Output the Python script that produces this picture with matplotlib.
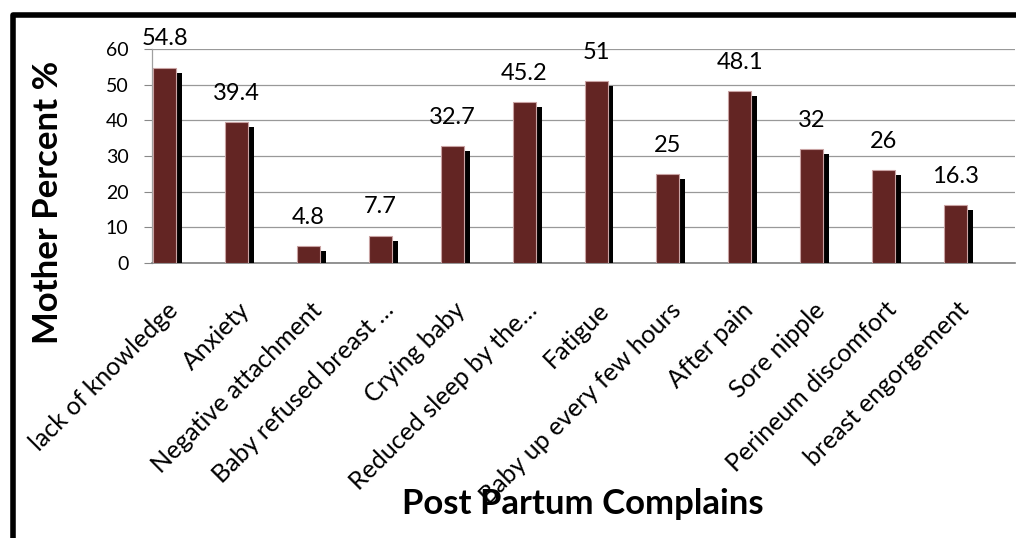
import matplotlib
matplotlib.use('Agg')
import matplotlib.pyplot as plt
import matplotlib.patheffects as pe
from matplotlib.patches import Rectangle

# Post partum complaints, percent of mothers
complains = ['lack of knowledge', 'Anxiety', 'Negative attachment',
             'Baby refused breast …', 'Crying baby', 'Reduced sleep by the…',
             'Fatigue', 'Baby up every few hours', 'After pain', 'Sore nipple',
             'Perineum discomfort', 'breast engorgement']
percent = [54.8, 39.4, 4.8, 7.7, 32.7, 45.2, 51, 25, 48.1, 32, 26, 16.3]
y_ticks = [0, 10, 20, 30, 40, 50, 60]

W, H = 1016, 538
fig = plt.figure(figsize=(W / 100, H / 100), dpi=100)
plt.rcParams['font.family'] = ['Lato', 'DejaVu Sans']

ax = fig.add_axes([152 / W, (H - 263) / H, 863 / W, 214 / H])

bar_w = 0.32
x = [i + 0.014 for i in range(len(percent))]
shadow = [pe.SimplePatchShadow(offset=(4.3, -3.6), shadow_rgbFace='black',
                               alpha=1.0), pe.Normal()]
bars = ax.bar(x, percent, width=bar_w, align='edge', color='#632523',
              edgecolor='#c9a3a3', linewidth=0.8, zorder=3)
for b in bars:
    b.set_path_effects(shadow)

# value labels above each bar
for xi, v in zip(x, percent):
    ax.annotate(f'{v:g}', xy=(xi + bar_w / 2, v), xytext=(0, 16),
                textcoords='offset points', ha='center', va='baseline',
                fontsize=17, color='black', annotation_clip=False)

ax.set_xlim(0, len(percent))
ax.set_ylim(0, 60)
ax.set_yticks(y_ticks)
ax.set_yticklabels([str(t) for t in y_ticks], fontsize=14)
ax.tick_params(axis='y', length=6, width=0.8, color='#888888', pad=11)
ax.tick_params(axis='x', length=0)
ax.set_xticks([])
ax.grid(axis='y', color='#999999', linewidth=0.9, zorder=0)
ax.set_axisbelow(True)
for s in ['top', 'right']:
    ax.spines[s].set_visible(False)
ax.spines['left'].set_color('#a0a0a0')
ax.spines['bottom'].set_color('#808080')
ax.spines['left'].set_linewidth(0.9)
ax.spines['bottom'].set_linewidth(1.2)

# rotated category names
for i, name in enumerate(complains):
    ax.annotate(name, xy=(i + 0.5, 0), xycoords=('data', 'axes fraction'),
                xytext=(-10, -31), textcoords='offset points',
                rotation=45, rotation_mode='anchor', ha='right', va='center',
                fontsize=18, annotation_clip=False)

fig.text(583 / W, 1 - 504 / H, 'Post Partum Complains', ha='center',
         va='center', fontsize=25, fontweight='bold')
fig.text(48 / W, 1 - 202 / H, 'Mother Percent %', ha='center', va='center',
         rotation=90, fontsize=25, fontweight='bold')

# black frame around the chart
fig.patches.append(Rectangle((12.5 / W, -0.2), 2, 1.2 - 14.5 / H,
                             transform=fig.transFigure, fill=False,
                             edgecolor='black', linewidth=4,
                             joinstyle='round'))

fig.savefig('out.png', dpi=100)
